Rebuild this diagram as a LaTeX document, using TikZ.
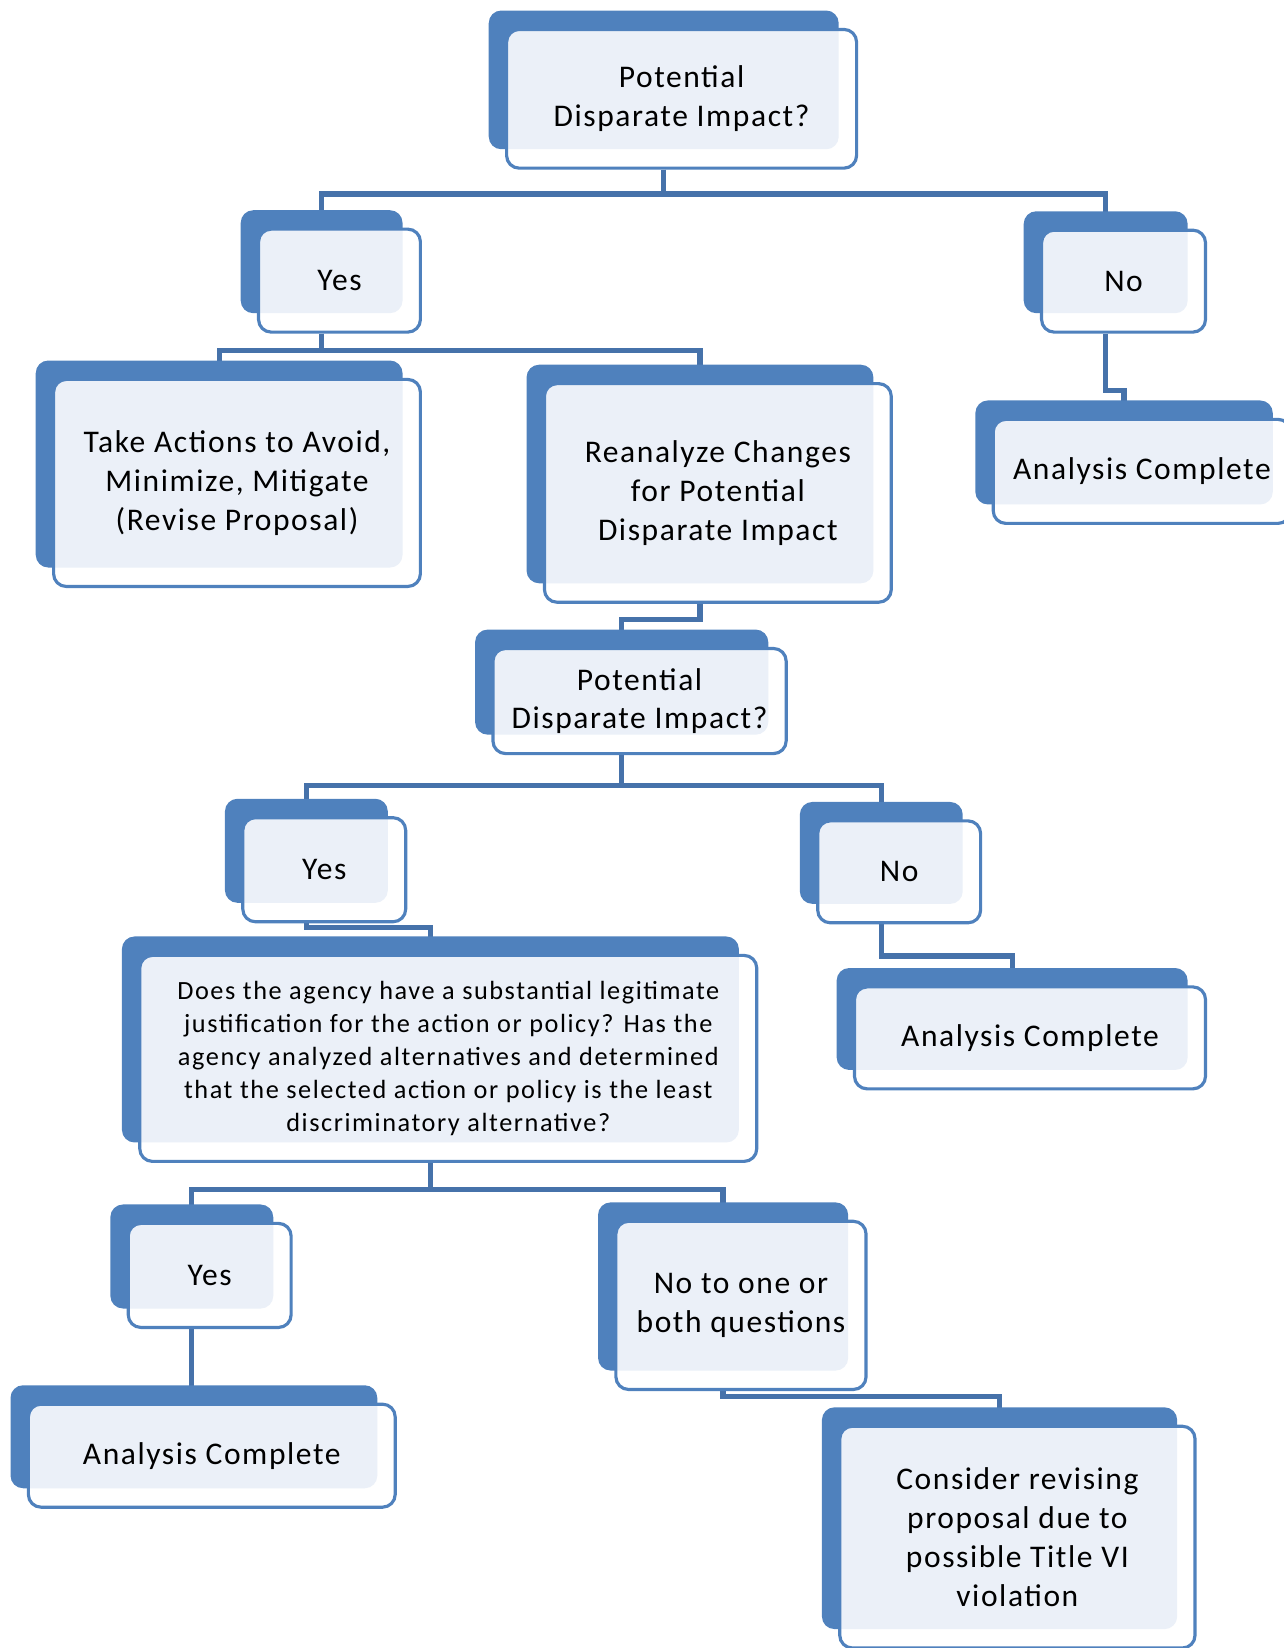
\documentclass[tikz,border=0pt]{standalone}
\usepackage{fontspec}
\setmainfont{Carlito}[LetterSpace=5]
\usetikzlibrary{shadows}
\pgfdeclarelayer{background}
\pgfsetlayers{background,main}
\definecolor{cardblue}{HTML}{4F81BD}
\definecolor{linkblue}{HTML}{4672AA}
\definecolor{cardfill}{HTML}{EBF0F8}
\newcommand{\cardfont}{\fontsize{15}{18.5}\selectfont}
\newcommand{\smallcardfont}{\addfontfeatures{LetterSpace=6}\fontsize{12.5}{15.75}\selectfont}
\tikzset{
  card/.style={draw=cardblue, line width=1.5pt, fill=white, rounded corners=6pt,
    inner sep=0pt, align=center, font=\cardfont,
    general shadow={fill=cardblue, shadow xshift=-8.5pt, shadow yshift=9pt},
    path picture={\fill[cardfill, rounded corners=6pt]
      ([shift={(-8.5pt,9pt)}]path picture bounding box.south west) rectangle
      ([shift={(-8.5pt,9pt)}]path picture bounding box.north east);}},
  link/.style={draw=linkblue, line width=2.5pt},
}
\begin{document}
\begin{tikzpicture}[x=0.5pt, y=-0.5pt]
  \useasboundingbox (0,0) rectangle (1221,1568);

  % Define nodes
  \node[card, minimum width=166.5pt, minimum height=66pt]  (top)   at (648.5,94)   {Potential\\Disparate Impact?};
  \node[card, minimum width=77pt,    minimum height=49pt]  (yesA)  at (323,267)    {Yes};
  \node[card, minimum width=78pt,    minimum height=48.5pt](noA)   at (1069,267.5) {No};
  \node[card, minimum width=174.5pt, minimum height=98.5pt](act)   at (225.5,459.5){Take Actions to Avoid,\\Minimize, Mitigate\\(Revise Proposal)};
  \node[card, minimum width=165pt,   minimum height=104pt] (rean)  at (683,469)    {Reanalyze Changes\\for Potential\\Disparate Impact};
  \node[card, minimum width=141.5pt, minimum height=49.5pt](doneA) at (1086.5,448.5){Analysis Complete};
  \node[card, minimum width=139.5pt, minimum height=50pt]  (pdB)   at (608.5,667)  {Potential\\Disparate Impact?};
  \node[card, minimum width=77.5pt,  minimum height=49.5pt](yesB)  at (308.5,827.5){Yes};
  \node[card, minimum width=77.5pt,  minimum height=48.5pt](noB)   at (855.5,829.5){No};
  \node[card, minimum width=293.5pt, minimum height=98pt, font=\smallcardfont] (just) at (426.5,1007)
    {Does the agency have a substantial legitimate\\justification for the action or policy? Has the\\agency analyzed alternatives and determined\\that the selected action or policy is the least\\discriminatory alternative?};
  \node[card, minimum width=167pt,   minimum height=48.5pt](doneB) at (980,987.5)  {Analysis Complete};
  \node[card, minimum width=77.5pt,  minimum height=49.5pt](yesC)  at (199.5,1213.5){Yes};
  \node[card, minimum width=119pt,   minimum height=80pt]  (noC)   at (705,1242)   {No to one or\\both questions};
  \node[card, minimum width=174.5pt, minimum height=49pt]  (doneC) at (201.5,1385) {Analysis Complete};
  \node[card, minimum width=169pt,   minimum height=105.5pt](cons) at (968,1462.5) {Consider revising\\proposal due to\\possible Title VI\\violation};

  % Connect the nodes
  \begin{pgfonlayer}{background}
    \draw[link] ([xshift=-8.5pt]top.south) -- ++(0,23) -| ([xshift=-8.5pt]yesA.north);
    \draw[link] ([xshift=-8.5pt]top.south) -- ++(0,23) -| ([xshift=-8.5pt]noA.north);
    \draw[link] ([xshift=-8.5pt]yesA.south) -- ++(0,16) -| ([xshift=-8.5pt]act.north);
    \draw[link] ([xshift=-8.5pt]yesA.south) -- ++(0,16) -| ([xshift=-8.5pt]rean.north);
    \draw[link] ([xshift=-8.5pt]noA.south) -- ++(0,54) -| ([xshift=-8.5pt]doneA.north);
    \draw[link] ([xshift=-8.5pt]rean.south) -- ++(0,15) -| ([xshift=-8.5pt]pdB.north);
    \draw[link] ([xshift=-8.5pt]pdB.south) -- ++(0,29) -| ([xshift=-8.5pt]yesB.north);
    \draw[link] ([xshift=-8.5pt]pdB.south) -- ++(0,29) -| ([xshift=-8.5pt]noB.north);
    \draw[link] ([xshift=-8.5pt]yesB.south) -- ++(0,4) -| ([xshift=-8.5pt]just.north);
    \draw[link] ([xshift=-8.5pt]noB.south) -- ++(0,30) -| ([xshift=-8.5pt]doneB.north);
    \draw[link] ([xshift=-8.5pt]just.south) -- ++(0,25) -| ([xshift=-8.5pt]yesC.north);
    \draw[link] ([xshift=-8.5pt]just.south) -- ++(0,25) -| ([xshift=-8.5pt]noC.north);
    \draw[link] ([xshift=-8.5pt]yesC.south) -- ([xshift=-8.5pt]yesC.south |- doneC.north);
    \draw[link] ([xshift=-8.5pt]noC.south) -- ++(0,5) -| ([xshift=-8.5pt]cons.north);
  \end{pgfonlayer}
\end{tikzpicture}
\end{document}
